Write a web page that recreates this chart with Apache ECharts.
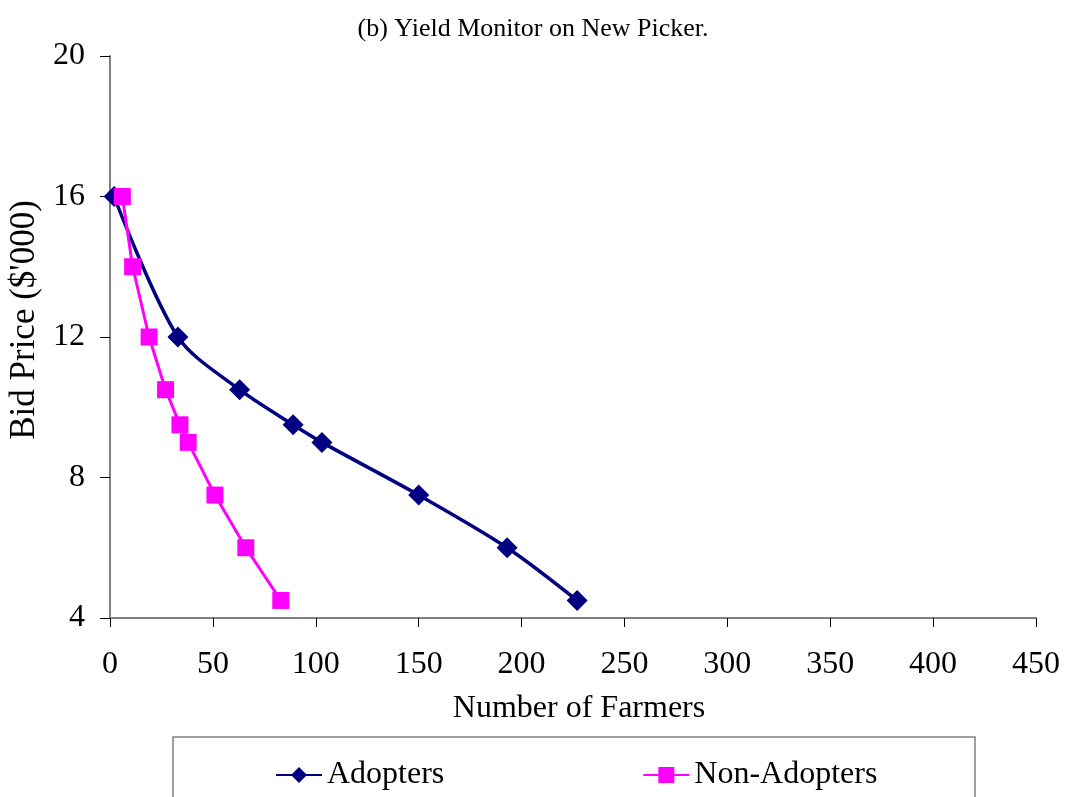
<!DOCTYPE html>
<html>
<head>
<meta charset="utf-8">
<script src="https://cdn.jsdelivr.net/npm/echarts@6/dist/echarts.min.js"></script>
<style>
  html, body { margin: 0; padding: 0; background: #fff; }
  #chart { width: 1066px; height: 797px; }
</style>
</head>
<body>
<div id="chart"></div>
<script>
// Bid price ($'000) against the number of farmers willing to pay it
const bidPrices = [16, 14, 12, 10.5, 9.5, 9, 7.5, 6, 4.5];
const adopterPrices = [16, 12, 10.5, 9.5, 9, 7.5, 6, 4.5];
const adopterFarmers = [2, 33, 63, 89, 103, 150, 193, 227];
const nonAdopterFarmers = [6, 11, 19, 27, 34, 38, 51, 66, 83];
const xTicks = [0, 50, 100, 150, 200, 250, 300, 350, 400, 450];
const yTicks = [4, 8, 12, 16, 20];

const serif = 'Liberation Serif';
const chart = echarts.init(document.getElementById('chart'));

chart.setOption({
  animation: false,
  backgroundColor: '#ffffff',
  title: {
    text: '(b) Yield Monitor on New Picker.',
    left: 'center',
    top: 11,
    textStyle: { fontFamily: serif, fontSize: 26, fontWeight: 'normal', color: '#000' }
  },
  graphic: [{
    type: 'rect',
    shape: { x: 173, y: 737, width: 802, height: 80 },
    style: { fill: '#fff', stroke: '#808080', lineWidth: 1.5 },
    z: 0
  }],
  legend: {
    left: 270,
    top: 754,
    itemWidth: 46,
    itemHeight: 20,
    itemGap: 198,
    textStyle: { fontFamily: serif, fontSize: 32, color: '#000' },
    data: ['Adopters', 'Non-Adopters']
  },
  grid: { left: 110, right: 30, top: 56, bottom: 179, outerBoundsMode: 'none' },
  xAxis: {
    type: 'value',
    min: xTicks[0],
    max: xTicks[xTicks.length - 1],
    interval: 50,
    name: 'Number of Farmers',
    nameLocation: 'middle',
    nameGap: 75,
    nameTextStyle: { fontFamily: serif, fontSize: 32, color: '#000', padding: [0, 0, 0, 12] },
    axisLine: { lineStyle: { color: '#808080', width: 2 } },
    axisTick: { show: true, length: 9, lineStyle: { color: '#000', width: 1 } },
    axisLabel: { fontFamily: serif, fontSize: 32, color: '#000', margin: 31 },
    splitLine: { show: false }
  },
  yAxis: {
    type: 'value',
    min: yTicks[0],
    max: yTicks[yTicks.length - 1],
    interval: 4,
    name: "Bid Price ($'000)",
    nameLocation: 'middle',
    nameGap: 67,
    nameTextStyle: { fontFamily: serif, fontSize: 35, color: '#000', padding: [0, 0, 0, 34] },
    axisLine: { show: true, lineStyle: { color: '#808080', width: 2 } },
    axisTick: { show: true, length: 10, lineStyle: { color: '#000', width: 1 } },
    axisLabel: { fontFamily: serif, fontSize: 32, color: '#000', margin: 25 },
    splitLine: { show: false }
  },
  series: [
    {
      name: 'Adopters',
      type: 'line',
      smooth: 0.3,
      data: adopterFarmers.map((x, i) => [x, adopterPrices[i]]),
      symbol: 'diamond',
      symbolSize: 21,
      itemStyle: { color: '#000080' },
      lineStyle: { color: '#000080', width: 3.5 },
      z: 3
    },
    {
      name: 'Non-Adopters',
      type: 'line',
      data: nonAdopterFarmers.map((x, i) => [x, bidPrices[i]]),
      symbol: 'rect',
      symbolSize: 17,
      itemStyle: { color: '#ff00ff' },
      lineStyle: { color: '#ff00ff', width: 3 },
      z: 4
    }
  ]
});
</script>
</body>
</html>
